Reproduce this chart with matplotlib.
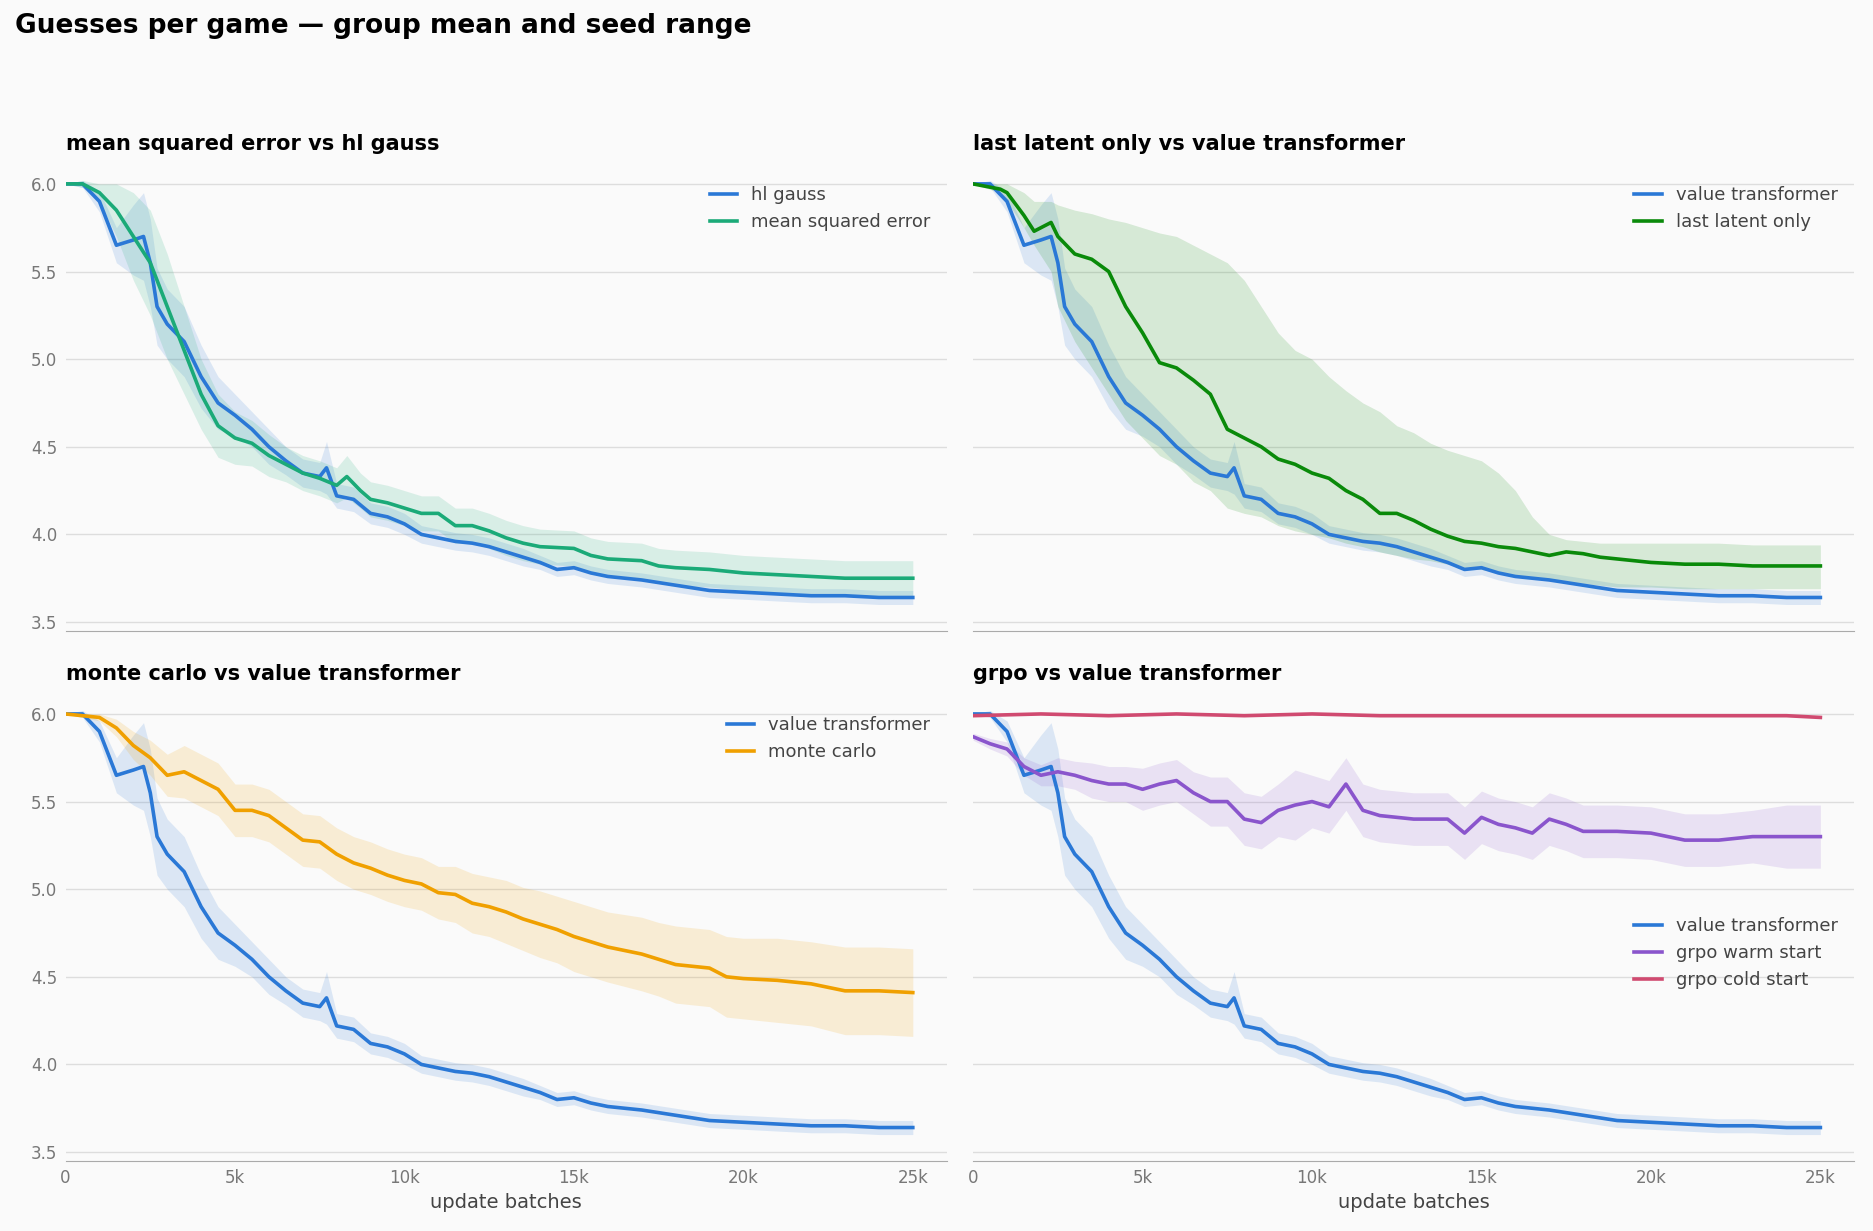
import matplotlib
matplotlib.use("Agg")
import matplotlib.pyplot as plt
import numpy as np

# ---- data (x in thousands of update batches) ----
vt_x = [0,0.5,1,1.5,2,2.3,2.5,2.7,3,3.5,4,4.5,5,5.5,6,6.5,7,7.5,7.7,8,8.5,9,9.5,10,10.5,11,11.5,12,12.5,13,13.5,14,14.5,15,15.5,16,17,18,19,20,21,22,23,24,25]
vt_y = [6.0,6.0,5.9,5.65,5.68,5.7,5.55,5.3,5.2,5.1,4.9,4.75,4.68,4.6,4.5,4.42,4.35,4.33,4.38,4.22,4.2,4.12,4.1,4.06,4.0,3.98,3.96,3.95,3.93,3.9,3.87,3.84,3.8,3.81,3.78,3.76,3.74,3.71,3.68,3.67,3.66,3.65,3.65,3.64,3.64]
vt_w = [0.0,0.02,0.06,0.1,0.2,0.25,0.25,0.22,0.2,0.2,0.18,0.15,0.12,0.1,0.1,0.08,0.08,0.08,0.15,0.07,0.07,0.06,0.06,0.06,0.05,0.05,0.05,0.05,0.05,0.05,0.05,0.04,0.04,0.04,0.04,0.04,0.04,0.04,0.04,0.04,0.04,0.04,0.04,0.04,0.04]

mse_x = [0,0.5,1,1.5,2,2.5,3,3.5,4,4.5,5,5.5,6,6.5,7,7.5,8,8.3,8.7,9,9.5,10,10.5,11,11.5,12,12.5,13,13.5,14,15,15.5,16,17,17.5,18,19,20,21,22,23,24,25]
mse_y = [6.0,6.0,5.95,5.85,5.7,5.55,5.3,5.05,4.8,4.62,4.55,4.52,4.45,4.4,4.35,4.32,4.28,4.33,4.25,4.2,4.18,4.15,4.12,4.12,4.05,4.05,4.02,3.98,3.95,3.93,3.92,3.88,3.86,3.85,3.82,3.81,3.8,3.78,3.77,3.76,3.75,3.75,3.75]
mse_w = [0.0,0.02,0.05,0.15,0.25,0.3,0.3,0.25,0.2,0.18,0.15,0.13,0.12,0.1,0.1,0.1,0.1,0.12,0.1,0.1,0.1,0.1,0.1,0.1,0.1,0.1,0.1,0.1,0.1,0.1,0.1,0.1,0.1,0.1,0.1,0.1,0.1,0.1,0.1,0.1,0.1,0.1,0.1]

ll_x = [0,0.8,1,1.5,1.8,2.3,2.5,3,3.5,4,4.5,5,5.5,6,6.5,7,7.5,8,8.5,9,9.5,10,10.5,11,11.5,12,12.5,13,13.5,14,14.5,15,15.5,16,16.5,17,17.5,18,18.5,19,20,21,22,23,24,25]
ll_y = [6.0,5.97,5.95,5.82,5.73,5.78,5.7,5.6,5.57,5.5,5.3,5.15,4.98,4.95,4.88,4.8,4.6,4.55,4.5,4.43,4.4,4.35,4.32,4.25,4.2,4.12,4.12,4.08,4.03,3.99,3.96,3.95,3.93,3.92,3.9,3.88,3.9,3.89,3.87,3.86,3.84,3.83,3.83,3.82,3.82,3.82]
ll_lo = [6.0,5.95,5.9,5.75,5.65,5.5,5.3,5.1,4.95,4.8,4.65,4.55,4.45,4.4,4.3,4.25,4.15,4.12,4.1,4.05,4.02,4.0,3.98,3.95,3.93,3.9,3.88,3.86,3.85,3.83,3.81,3.8,3.78,3.76,3.75,3.74,3.73,3.72,3.71,3.7,3.7,3.69,3.69,3.69,3.69,3.69]
ll_hi = [6.0,6.0,6.0,5.95,5.9,5.9,5.88,5.85,5.83,5.8,5.78,5.75,5.72,5.7,5.65,5.6,5.55,5.45,5.3,5.15,5.05,5.0,4.9,4.82,4.75,4.7,4.62,4.58,4.52,4.48,4.45,4.42,4.35,4.25,4.1,4.0,3.97,3.96,3.95,3.95,3.95,3.95,3.95,3.94,3.94,3.94]

mc_x = [0,1,1.5,2,2.5,3,3.5,4,4.5,5,5.5,6,6.5,7,7.5,8,8.5,9,9.5,10,10.5,11,11.5,12,12.5,13,13.5,14,14.5,15,15.5,16,17,17.5,18,19,19.5,20,21,22,23,24,25]
mc_y = [6.0,5.98,5.92,5.82,5.75,5.65,5.67,5.62,5.57,5.45,5.45,5.42,5.35,5.28,5.27,5.2,5.15,5.12,5.08,5.05,5.03,4.98,4.97,4.92,4.9,4.87,4.83,4.8,4.77,4.73,4.7,4.67,4.63,4.6,4.57,4.55,4.5,4.49,4.48,4.46,4.42,4.42,4.41]
mc_w = [0.0,0.02,0.05,0.08,0.1,0.12,0.15,0.15,0.15,0.15,0.15,0.15,0.15,0.15,0.15,0.15,0.15,0.15,0.15,0.15,0.15,0.15,0.16,0.17,0.17,0.18,0.18,0.19,0.19,0.2,0.2,0.2,0.21,0.21,0.22,0.22,0.23,0.23,0.24,0.24,0.25,0.25,0.25]

gw_x = [0,0.5,1,1.5,2,2.5,3,3.5,4,4.5,5,5.5,6,6.5,7,7.5,8,8.5,9,9.5,10,10.5,11,11.5,12,13,14,14.5,15,15.5,16,16.5,17,17.5,18,19,20,21,22,23,24,25]
gw_y = [5.87,5.83,5.8,5.7,5.65,5.67,5.65,5.62,5.6,5.6,5.57,5.6,5.62,5.55,5.5,5.5,5.4,5.38,5.45,5.48,5.5,5.47,5.6,5.45,5.42,5.4,5.4,5.32,5.41,5.37,5.35,5.32,5.4,5.37,5.33,5.33,5.32,5.28,5.28,5.3,5.3,5.3]
gw_w = [0.02,0.03,0.04,0.05,0.06,0.08,0.08,0.1,0.1,0.1,0.12,0.12,0.12,0.12,0.14,0.14,0.15,0.15,0.15,0.2,0.15,0.15,0.15,0.15,0.15,0.15,0.15,0.15,0.15,0.15,0.15,0.15,0.15,0.15,0.15,0.15,0.15,0.15,0.15,0.15,0.18,0.18]

gc_x = [0,2,4,6,8,10,12,14,16,18,20,22,24,25]
gc_y = [5.99,6.0,5.99,6.0,5.99,6.0,5.99,5.99,5.99,5.99,5.99,5.99,5.99,5.98]

BLUE = "#2a78d6"; MSE = "#1baa78"; LL = "#0a8a0a"; MC = "#f0a000"; GW = "#8a55cc"; GC = "#d04a70"
BG = "#fafafa"

def band(ax, x, y, w=None, lo=None, hi=None, c=None):
    x = np.array(x) * 1000
    y = np.array(y)
    if lo is None:
        lo = y - np.array(w); hi = y + np.array(w)
    ax.fill_between(x, lo, hi, color=c, alpha=0.15, lw=0)

def line(ax, x, y, c, label):
    ax.plot(np.array(x) * 1000, y, color=c, lw=2.6, label=label)

fig, axes = plt.subplots(2, 2, figsize=(18.73, 12.31), dpi=100, sharex=True, sharey=True)
fig.patch.set_facecolor(BG)
fig.subplots_adjust(left=0.035, right=0.99, top=0.862, bottom=0.057, wspace=0.03, hspace=0.15)
fig.text(0.008, 0.979, "Guesses per game — group mean and seed range", fontsize=19, fontweight="bold", va="center")

a = axes[0, 0]
band(a, vt_x, vt_y, vt_w, c=BLUE); band(a, mse_x, mse_y, mse_w, c=MSE)
line(a, vt_x, vt_y, BLUE, "hl gauss"); line(a, mse_x, mse_y, MSE, "mean squared error")
a.set_title("mean squared error vs hl gauss")

a = axes[0, 1]
band(a, vt_x, vt_y, vt_w, c=BLUE); band(a, ll_x, ll_y, lo=ll_lo, hi=ll_hi, c=LL)
line(a, vt_x, vt_y, BLUE, "value transformer"); line(a, ll_x, ll_y, LL, "last latent only")
a.set_title("last latent only vs value transformer")

a = axes[1, 0]
band(a, vt_x, vt_y, vt_w, c=BLUE); band(a, mc_x, mc_y, mc_w, c=MC)
line(a, vt_x, vt_y, BLUE, "value transformer"); line(a, mc_x, mc_y, MC, "monte carlo")
a.set_title("monte carlo vs value transformer")

a = axes[1, 1]
band(a, vt_x, vt_y, vt_w, c=BLUE); band(a, gw_x, gw_y, gw_w, c=GW)
line(a, vt_x, vt_y, BLUE, "value transformer"); line(a, gw_x, gw_y, GW, "grpo warm start")
line(a, gc_x, gc_y, GC, "grpo cold start")
a.set_title("grpo vs value transformer")

for i, a in enumerate(axes.flat):
    a.set_facecolor(BG)
    t = a.get_title()
    a.set_title("", loc="center")
    a.set_title(t, loc="left", fontsize=15, fontweight="bold", pad=14)
    a.set_xlim(0, 26000); a.set_ylim(3.45, 6.08)
    a.set_yticks([3.5, 4.0, 4.5, 5.0, 5.5, 6.0])
    a.set_xticks([0, 5000, 10000, 15000, 20000, 25000])
    a.set_xticklabels(["0", "5k", "10k", "15k", "20k", "25k"])
    a.grid(axis="y", color="#dddddd", lw=1)
    a.set_axisbelow(True)
    for s in ["left", "right", "top"]:
        a.spines[s].set_visible(False)
    a.spines["bottom"].set_color("#aaaaaa")
    a.tick_params(length=0, labelsize=12, colors="#777777", pad=6)
    leg_loc = "center right" if i == 3 else "upper right"
    kw = dict(bbox_to_anchor=(1.0, 0.45)) if i == 3 else {}
    a.legend(loc=leg_loc, frameon=False, fontsize=13, labelcolor="#444444", handlelength=1.5, **kw)
for a in axes[1]:
    a.set_xlabel("update batches", fontsize=14, color="#444444")

fig.savefig("out.png", dpi=100, facecolor=BG)
